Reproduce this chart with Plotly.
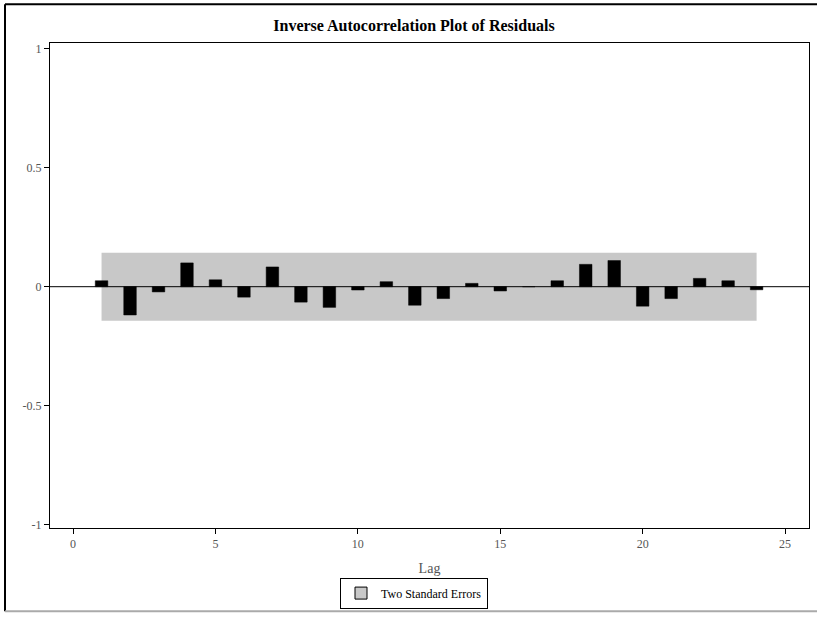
import plotly.graph_objects as go

lags = list(range(1, 25))
iacf = [0.025, -0.119, -0.022, 0.100, 0.029, -0.044, 0.083, -0.065,
        -0.087, -0.014, 0.021, -0.078, -0.050, 0.014, -0.018, 0.0,
        0.025, 0.094, 0.110, -0.082, -0.050, 0.035, 0.025, -0.013]
two_se = 0.143

x_ticks = [0, 5, 10, 15, 20, 25]
y_ticks = [-1, -0.5, 0, 0.5, 1]
y_tick_text = ["-1", "-0.5", "0", "0.5", "1"]

W, H = 817, 617
L, R, T, B = 50, 8, 43, 85
pw, ph = W - L - R, H - T - B

def px(xp):
    return (xp - L) / pw

def py(yp):
    return (H - B - yp) / ph

serif = "Liberation Serif, Times New Roman, serif"

fig = go.Figure()
# legend-only proxy for the band
fig.add_trace(go.Bar(
    x=[None], y=[None], name="Two Standard Errors",
    marker=dict(color="#c8c8c8", line=dict(color="black", width=1)),
    showlegend=True))
fig.add_trace(go.Bar(
    x=lags, y=iacf, width=0.44,
    marker=dict(color="black", line=dict(color="black", width=0.5)),
    showlegend=False))

shapes = [
    dict(type="rect", xref="x", yref="y", x0=lags[0], x1=lags[-1], y0=-two_se, y1=two_se,
         fillcolor="#c8c8c8", line=dict(width=0), layer="below"),
    dict(type="line", xref="paper", yref="y", x0=0, x1=1, y0=0, y1=0,
         line=dict(color="black", width=1), layer="above"),
    dict(type="line", xref="paper", yref="paper", x0=px(5), x1=px(5), y0=py(616), y1=py(4),
         line=dict(color="black", width=2)),
    dict(type="line", xref="paper", yref="paper", x0=px(5), x1=px(820), y0=py(4), y1=py(4),
         line=dict(color="black", width=2)),
    dict(type="line", xref="paper", yref="paper", x0=px(5), x1=px(820), y0=py(616), y1=py(616),
         line=dict(color="#aaaaaa", width=2)),
]

fig.update_layout(
    width=W, height=H,
    margin=dict(l=L, r=R, t=T, b=B),
    paper_bgcolor="white", plot_bgcolor="white",
    barmode="overlay",
    title=dict(text="<b>Inverse Autocorrelation Plot of Residuals</b>",
               x=px(414), xref="paper", xanchor="center",
               y=1 - 25 / H, yanchor="middle", yref="container",
               font=dict(family=serif, size=16, color="black")),
    xaxis=dict(range=[-0.81, 25.84], tickvals=x_ticks, ticks="outside", ticklen=5,
               tickcolor="black", showgrid=False, zeroline=False,
               showline=True, linecolor="black", linewidth=1, mirror=True,
               tickfont=dict(family=serif, size=12, color="#555555"),
               title=dict(text="Lag", font=dict(family=serif, size=14, color="#555555"), standoff=12)),
    yaxis=dict(range=[-1.015, 1.025], tickvals=y_ticks, ticktext=y_tick_text,
               ticks="outside", ticklen=5, tickcolor="black", showgrid=False,
               zeroline=False,
               showline=True, linecolor="black", linewidth=1, mirror=True,
               tickfont=dict(family=serif, size=12, color="#555555")),
    legend=dict(x=px(414), xanchor="center", y=py(582), yanchor="top",
                orientation="h", bordercolor="black", borderwidth=1,
                bgcolor="white", font=dict(family=serif, size=12, color="black"),
                itemwidth=30),
    shapes=shapes,
)

fig.write_html("out.html")
